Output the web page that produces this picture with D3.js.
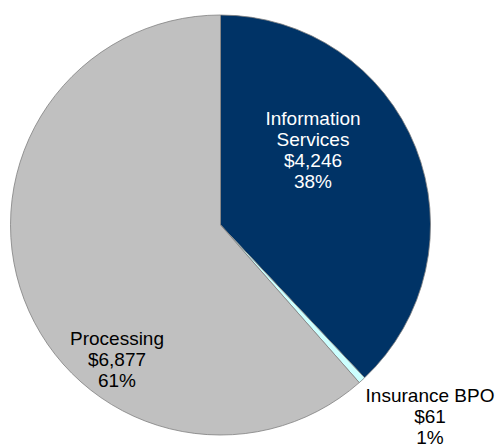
<!DOCTYPE html>
<html>
<head>
<meta charset="utf-8">
<script src="https://cdn.jsdelivr.net/npm/d3@7"></script>
<style>
  html, body { margin: 0; padding: 0; background: #ffffff; }
  svg { display: block; }
</style>
</head>
<body>
<svg id="chart" width="495" height="445"></svg>
<script>
// Revenue by segment
const segments = ["Information Services", "Insurance BPO", "Processing"];
const revenues = [4246, 61, 6877];
const percentLabels = ["38%", "1%", "61%"];
const labelLines = [["Information", "Services"], ["Insurance BPO"], ["Processing"]];
const sliceColors = ["#003366", "#CCFFFF", "#C0C0C0"];
const labelColors = ["#ffffff", "#000000", "#000000"];

const svg = d3.select("#chart");
const cx = 220.5, cy = 225, radius = 210;

const g = svg.append("g").attr("transform", `translate(${cx},${cy})`);

const pie = d3.pie().sort(null).value(d => d.value);
const arc = d3.arc().innerRadius(0).outerRadius(radius);

const data = segments.map((s, i) => ({
  name: s, value: revenues[i], pct: percentLabels[i],
  lines: labelLines[i], color: sliceColors[i], textColor: labelColors[i]
}));

const arcs = pie(data);

g.selectAll("path.slice")
  .data(arcs)
  .join("path")
  .attr("class", "slice")
  .attr("d", arc)
  .attr("fill", d => d.data.color)
  .attr("stroke", "#808080")
  .attr("stroke-width", 0.8)
  .attr("stroke-linejoin", "round");

// label placement: offsets from the pie centre, tuned per slice
const labelOffsets = [[92.5, -100], [209.5, 177], [-103.5, 120]];
const lineHeight = 21;

arcs.forEach((a, i) => {
  const d = a.data;
  const lines = [...d.lines, "$" + d3.format(",")(d.value), d.pct];
  const [ox, oy] = labelOffsets[i];
  const t = g.append("text")
    .attr("x", ox)
    .attr("y", oy)
    .attr("text-anchor", "middle")
    .attr("font-family", "Liberation Sans, Arial, sans-serif")
    .attr("font-size", 19)
    .attr("fill", d.textColor);
  lines.forEach((ln, j) => {
    t.append("tspan")
      .attr("x", ox)
      .attr("y", oy + j * lineHeight)
      .text(ln);
  });
});
</script>
</body>
</html>
